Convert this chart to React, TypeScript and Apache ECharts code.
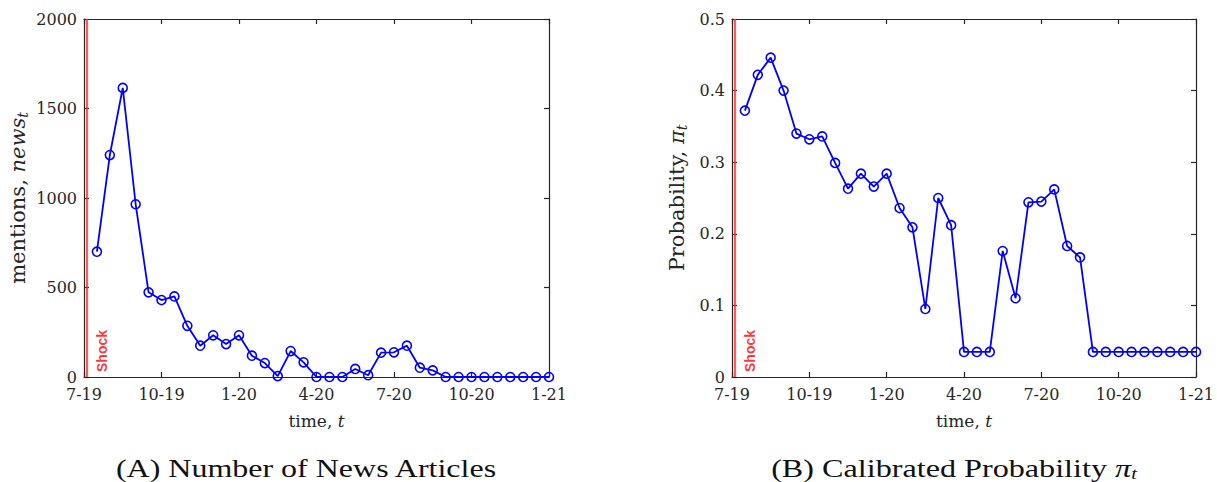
import React, { useEffect, useRef } from "react";
import * as echarts from "echarts";

// Half-month periods from July 2019 to January 2021
const period = [
  1, 2, 3, 4, 5, 6, 7, 8, 9, 10, 11, 12, 13, 14, 15, 16, 17, 18,
  19, 20, 21, 22, 23, 24, 25, 26, 27, 28, 29, 30, 31, 32, 33, 34, 35, 36,
];
const quarterTicks = ["7-19", "10-19", "1-20", "4-20", "7-20", "10-20", "1-21"];

const newsMentions = [
  700, 1240, 1615, 965, 473, 430, 450, 286, 175, 233, 184, 233, 119, 78, 5, 145,
  82, 0, 0, 0, 45, 10, 136, 138, 175, 52, 37, 0, 0, 0, 0, 0, 0, 0, 0, 0,
];
const calibratedProb = [
  0.372, 0.422, 0.446, 0.4, 0.34, 0.332, 0.336, 0.299, 0.263, 0.284, 0.266, 0.284,
  0.236, 0.209, 0.095, 0.25, 0.212, 0.035, 0.035, 0.035, 0.176, 0.11, 0.244, 0.245,
  0.262, 0.183, 0.167, 0.035, 0.035, 0.035, 0.035, 0.035, 0.035, 0.035, 0.035, 0.035,
];
const shockPeriod = 0.23;

const SERIF = '"DejaVu Serif", serif';
const CAPTION_FONT = "Liberation Serif";
const INK = "#262626";
const BLUE = "#0000ff";
const TICK_SIZE = 16;

function measure(text: string, font: string): number {
  const ctx = document.createElement("canvas").getContext("2d");
  if (!ctx) return 0;
  ctx.font = font;
  return ctx.measureText(text).width;
}

function bottomAxis(gridIndex: number) {
  return {
    type: "value",
    gridIndex,
    position: "bottom",
    min: 0,
    max: 36,
    interval: 6,
    axisLine: { show: true, onZero: false, lineStyle: { color: INK, width: 1.2 } },
    axisTick: { show: true, inside: true, length: 5, lineStyle: { color: INK, width: 1.2 } },
    axisLabel: {
      formatter: (v: number) => quarterTicks[Math.round(v / 6)] ?? "",
      color: INK,
      fontFamily: SERIF,
      fontSize: TICK_SIZE,
      lineHeight: 14,
      margin: 10,
      showMinLabel: true,
      showMaxLabel: true,
    },
    splitLine: { show: false },
    name: "{r|time, }{i|t}",
    nameLocation: "middle",
    nameGap: 35,
    nameTextStyle: {
      color: INK,
      fontFamily: SERIF,
      fontSize: 17,
      rich: {
        r: { fontFamily: SERIF, fontSize: 17, color: INK },
        i: { fontFamily: SERIF, fontSize: 17, fontStyle: "italic", color: INK },
      },
    },
  };
}

function topAxis(gridIndex: number) {
  return {
    type: "value",
    gridIndex,
    position: "top",
    min: 0,
    max: 36,
    interval: 6,
    axisLine: { show: true, onZero: false, lineStyle: { color: INK, width: 1.2 } },
    axisTick: { show: true, inside: true, length: 5, lineStyle: { color: INK, width: 1.2 } },
    axisLabel: { show: false },
    splitLine: { show: false },
  };
}

function leftAxis(gridIndex: number, max: number, interval: number, name: string, gap: number) {
  return {
    type: "value",
    gridIndex,
    position: "left",
    min: 0,
    max,
    interval,
    axisLine: { show: true, onZero: false, lineStyle: { color: INK, width: 1.2 } },
    axisTick: { show: true, inside: true, length: 5, lineStyle: { color: INK, width: 1.2 } },
    axisLabel: {
      color: INK,
      fontFamily: SERIF,
      fontSize: TICK_SIZE,
      lineHeight: 14,
      margin: 7,
      formatter: (v: number) => String(Math.round(v * 1000) / 1000),
    },
    splitLine: { show: false },
    name,
    nameLocation: "middle",
    nameGap: gap,
    nameTextStyle: {
      color: INK,
      fontFamily: SERIF,
      fontSize: 21,
      rich: {
        r: { fontFamily: SERIF, fontSize: 21, color: INK },
        i: { fontFamily: SERIF, fontSize: 21, fontStyle: "italic", color: INK },
        s: {
          fontFamily: SERIF,
          fontSize: 14,
          fontStyle: "italic",
          color: INK,
          verticalAlign: "bottom",
          padding: [10, 0, 0, 0],
        },
      },
    },
  };
}

function rightAxis(gridIndex: number, max: number, interval: number) {
  return {
    type: "value",
    gridIndex,
    position: "right",
    min: 0,
    max,
    interval,
    axisLine: { show: true, onZero: false, lineStyle: { color: INK, width: 1.2 } },
    axisTick: { show: true, inside: true, length: 5, lineStyle: { color: INK, width: 1.2 } },
    axisLabel: { show: false },
    splitLine: { show: false },
  };
}

function lineSeries(index: number, values: number[]) {
  return {
    type: "line",
    xAxisIndex: index * 2,
    yAxisIndex: index * 2,
    data: period.map((p, i) => [p, values[i]]),
    symbol: "circle",
    symbolSize: 9,
    showAllSymbol: true,
    clip: false,
    lineStyle: { color: BLUE, width: 1.8 },
    itemStyle: { color: "rgba(255,255,255,0)", borderColor: BLUE, borderWidth: 1.6 },
    emphasis: { disabled: true },
    markLine: {
      silent: true,
      symbol: ["none", "none"],
      data: [{ xAxis: shockPeriod }],
      lineStyle: { color: "#ff3030", width: 2.2, type: "solid", opacity: 0.8 },
      label: {
        show: true,
        formatter: "Shock",
        position: "insideStartBottom",
        distance: [5, 8],
        color: "#ff0000",
        fontWeight: "bold",
        fontFamily: '"Liberation Sans", Arial, sans-serif',
        fontSize: 14,
      },
      emphasis: { disabled: true },
    },
  };
}

export default function App() {
  const ref = useRef<HTMLDivElement>(null);

  useEffect(() => {
    if (!ref.current) return;
    const chart = echarts.init(ref.current, undefined, { renderer: "svg" });

    const capSize = 25;
    const capSub = 16;
    const capFont = `${capSize}px "${CAPTION_FONT}"`;
    const capSubFont = `italic ${capSub}px "${CAPTION_FONT}"`;
    const capItalic = `italic ${capSize}px "${CAPTION_FONT}"`;
    const captionA = "(A) Number of News Articles";
    const captionB = "(B) Calibrated Probability ";
    const widthA = measure(captionA, capFont) || 1;
    const widthB =
      measure(captionB, capFont) + measure("π", capItalic) + measure("t", capSubFont) || 1;

    const capStyle = { fontFamily: CAPTION_FONT, fontSize: capSize, fill: "#111" };

    chart.setOption({
      animation: false,
      backgroundColor: "#ffffff",
      grid: [
        { left: 84, top: 19, width: 465, height: 358 },
        { left: 732, top: 19, width: 465.5, height: 358 },
      ],
      xAxis: [bottomAxis(0), topAxis(0), bottomAxis(1), topAxis(1)],
      yAxis: [
        leftAxis(0, 2000, 500, "{r|mentions, }{i|news}{s|t}", 54),
        rightAxis(0, 2000, 500),
        leftAxis(1, 0.5, 0.1, "{r|Probability, }{i|π}{s|t}", 43),
        rightAxis(1, 0.5, 0.1),
      ],
      series: [lineSeries(0, newsMentions), lineSeries(1, calibratedProb)],
      graphic: [
        {
          type: "text",
          x: 306,
          y: 468,
          scaleX: 382 / widthA,
          style: {
            text: captionA,
            ...capStyle,
            textAlign: "center",
            textVerticalAlign: "middle",
          },
        },
        {
          type: "text",
          x: 954,
          y: 468,
          scaleX: 366 / widthB,
          style: {
            text: "{r|" + captionB + "}{p|π}{s|t}",
            ...capStyle,
            textAlign: "center",
            textVerticalAlign: "middle",
            rich: {
              r: { ...capStyle },
              p: { ...capStyle, fontStyle: "italic" },
              s: {
                ...capStyle,
                fontSize: capSub,
                fontStyle: "italic",
                verticalAlign: "bottom",
                padding: [11, 0, 0, 0],
              },
            },
          },
        },
      ],
    });

    return () => chart.dispose();
  }, []);

  return (
    <div
      ref={ref}
      style={{ position: "fixed", left: 0, top: 0, width: 1217, height: 482, background: "#fff" }}
    />
  );
}
